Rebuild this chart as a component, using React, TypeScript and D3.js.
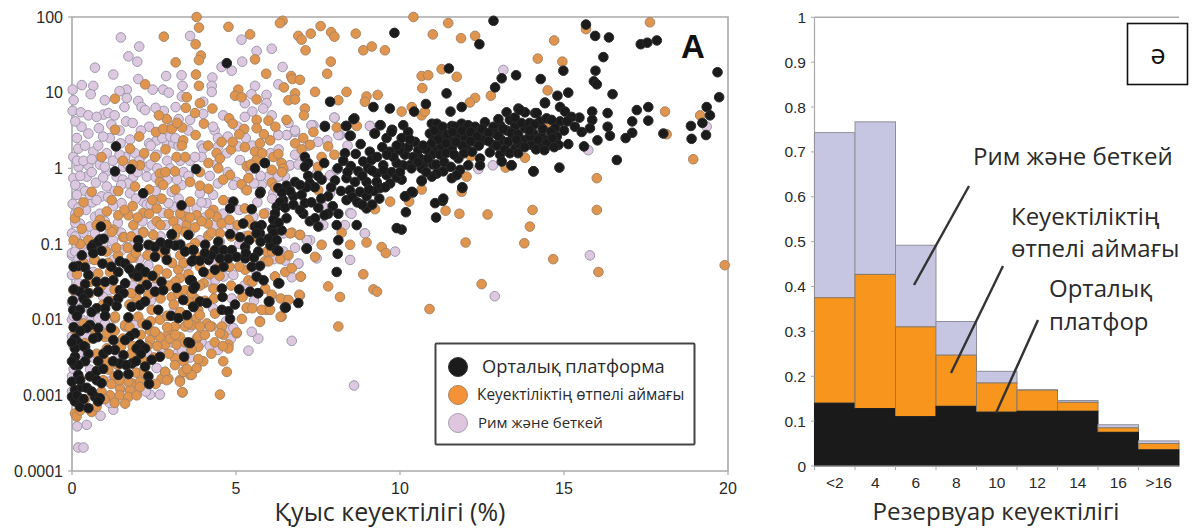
import React from "react";
import * as d3 from "d3";

// Scatter values are [porosity %, log10 permeability].
const rimSlopeSparse: [number, number][] = [
[1.49,1.73],[2.05,1.61],[1.72,1.48],[1.99,1.41],[.7,1.33],[1.26,1.24],[2.02,1.18],[.65,1.09],[.57,.98],[.02,1.04],[1.67,1.04],[1.67,.93],[2.46,1.04],[2.78,1.04],[2.87,1.22],[3.34,1.23],[3.37,1.09],[3.6,1.75],[4.28,1.2],[4.26,1.09],[4.26,1.01],[5.17,1.7],[5.63,1.55],[6.09,1.58],[5.19,1.41],[4.56,1.34],[4.87,1.29],[6.42,1.34],[6.29,1.11],[5.58,1.09],[5.47,.98],[5.93,.97],[5.93,.86],[5.27,.86],[5.83,.79],[6.09,.7],[5.27,.68],[4.61,.7],[2.02,.89],[1.6,.81],[2.12,.81],[2.23,.77],[.02,.76],[.27,.74],[.96,.71],[1.11,.73],[.29,.55],[.5,.46],[.82,.53],[.19,.26],[.04,.15],[.5,.04],[1.06,.2],[1.48,.33],[1.77,.38],[2.35,.55],[2.8,.76],[3.16,.81],[3.6,.64],[4,.88],[2.58,.37],[2.89,.33],[3.09,.33],[3.95,.3],
[.04,-.13],[.29,-.26],[.45,-.11],[.73,-.19],[1.06,-.04],[1.06,-.24],[.9,-.37],[.02,-.47],[.43,-.55],[.7,-.64],[.24,-.73],[.55,-.77],[.85,-.6],[.12,-.93],[.29,-1.06],[0,-1.15],[.7,-.86],[1.51,-.46],[1.77,-.33],[2.17,-.44],[2.17,.18],[2.58,.18],[2.28,.02],[1.62,.15],[1.92,.2],[1.56,.02],[1.36,-.11],[1.87,-.11],[2.28,-.11],[3.04,-.31],[3.09,-.51],[3.34,-.22],[3.9,-.33],[4.1,-.46],[4.61,-.6],[4,.26],[3.95,.15],[4.72,.2],[5.07,.29],[5.12,.11],[5.43,-.02],[5.02,-.18],[4.46,.29],[6.29,.44],[6.56,.44],[6.8,.48],[7.36,.57],[8,.67],[8.17,.44],[9.09,.56],[6.65,.04],[6.49,-.11],[5.99,-.11],[7.87,-.09],[8.48,-.59],[8.93,-.86],[9.85,-1.1],[7.26,-.95],[6.29,-1.09],[8.48,-1.21],[6.9,-1.26],[7.87,-.33],[4.92,-.22],[5.53,-.64],[5.93,-.59],[6.44,-.86],[3.29,-.73],[3.8,-.53],[2.28,-.48],[2.94,-.46],[2.78,-.59],[1.97,-.86],[1.67,-1.04],[2.38,-1.06],[3.09,-.99],[3.9,-.95],[4.92,-.86],[4.51,-.97],[5.27,-.9],
[7.3,.57],[6.8,.5],[6.54,.44],[6.29,.44],[8,.67],[8.12,.44],[7.78,.37],[9.08,.56],[6.8,.18],[6.49,0],[6.64,.04],[6.29,-.11],[7.46,-.07],[8.07,-.02],[5.78,-.22],[6.14,-.33],[7.86,-.53],[8.52,-.6],[7.66,-.51],[8.32,-.75],[7.66,-.75],[8.93,-.86],
[7.16,-.95],[6.9,-1.26],[6.5,-1.22],[7.46,-1.19],[4.92,-1.41],[4.36,-1.48],[4.62,-1.43],[6.7,-1.44],[4.87,-1.72],[5.48,-2.16],[5.68,-2.25],[6.7,-2.28],[4.77,-2.14],[5.38,-2.41],[8.6,-2.87],[2.68,-2.99],[2.38,-2.99],[1.26,-3.19],[.87,-3.27],[.45,-3.39],[.16,-3.41],[.19,-3.69],[.35,-3.69],[4.92,-2.11],
[0,-1.12],[.14,-.95],[.35,-1.04],[0,-.86],[1.11,-1.08],[1.51,-1.08],[2.33,-1.28],[1.11,-1.61],[.2,-1.52],[0,-1.41],[.14,-1.74],[0,-1.78],[.65,-1.37],[1.26,-1.21],[.6,-1.96],[.3,-2],[.8,-1.98],[0,-2],[1.01,-2.05],[1.92,-2.07],[0,-2.22],[.4,-2.22],[1.97,-2.36],[0,-2.75],[.55,-2.66],[1.11,-2.82],[1.62,-2.89],[2.58,-2.64],[2.1,-2.7],
[.4,-.3],[.15,-.35],[.62,-.45],[1.25,-.5],[1.4,-.72],[1.15,-.85],[.95,-1],[.55,-1.2],[.3,-1.3],[1.7,-1.3],[2.05,-1.2],[2.7,-.9],[3.3,-1],[3.5,-1.3],[2.55,-1.55],[1.85,-1.55],[.95,-1.7],[.3,-1.85],[2.4,-1.75],[3.1,-1.9],[3.6,-2.1],[2.6,-2.2],[3.2,-2.45],[1.4,-2.45],[.65,-2.5],[.2,-2.45],[2,-2.9],[1.55,-.15],[2.55,-.3],[3.6,.1],[3.25,.3],[4.35,.5],[3.05,.55],[2.35,.33],[4.2,-.1],[4.35,-.75],[4.8,-.45],[5.3,.4],[5.5,.3],[3.4,-.05],[1.15,.4],[.65,.22],[.85,.05],[.2,.02],[.1,-.6],
[15.79,-1.15],[15.74,.24],[13.15,1.3],[12.83,.04],[12.39,-.01],[19.35,.55],[12.89,-1.69]
];
const rimSlopeDense: [number, number][] = [
[.15,.1],[.35,.1],[.6,.12],[.8,.3],[1,.02],[1.25,.1],[1.45,.18],[1.7,.05],[2.05,.1],[2.4,.05],[2.6,0],[2.9,.1],[3,0],[3.3,.1],[3.55,-.1],[3.75,.15],[3.2,-.15],[2.9,-.15],[2.55,-.12],[2,-.05],[1.7,-.2],[1.3,-.3],[.95,-.12],[.6,-.05],[.25,-.1],[.1,-.22],[.55,-.35],[.75,-.42],[1.1,-.38],[1.5,-.22],[1.95,-.4],[2.4,-.48],[2.6,-.42],[3.25,-.4],[3.45,-.55],[3.95,-.45],[4.3,-.35],[4.45,-.2],[4.75,-.05],[4.4,.05],[5.3,-.28],[5.55,-.2],[5.75,-.1],[6.1,-.4],[6.9,.05],[7.2,.3],[7.5,.35],[8.4,.3],[.1,-.9],[.2,-.52],[.35,-.85],[.5,-1.1],[.1,-.72],[1,-.7],[1.25,-.95],[1.5,-.85],[1.9,-1],[2.15,-.7],[2.45,-.75],[2.85,-.75],[3.6,-.85],[4.05,-.65],[4.8,-.75],[5.1,-.55],[5.65,-.45],[5.1,-1],[5.6,-1.35],[4.3,-1.25],[4.1,-1.5],[4.75,-1.3],[4.3,-1.85],[4.7,-2.02],[5.25,-1.55],[5.55,-1.75],[6.15,-1.2],[6.45,-1.1],[6.8,-1.05],[.1,-1.1],[.05,-1.95],[.2,-1.2],[.15,-2.1],[.25,-2.55],[.05,-2.35],[.05,-2.65],[0,-2.95],[1.15,-3.1],[2.25,-2.95],[1.7,-2.72],[2.3,-2.45],[2.75,-2.4],[3.05,-2.3],[3.35,-2.4],[3.6,-2.5],[3.95,-2.3],[4.2,-2.35],[4.45,-2.4],[4.85,-2.25],[.4,.3],[.15,.4],[.1,.62],[.5,.7],[.75,.68],[.95,.42],[1.2,.58],[1.45,.5],[1.65,.62],[1.85,.6],[2.1,.5],[2.4,.3],[2.75,.4],[3,.42],[3.25,.65],[3.55,.5],[4,.72],[4.3,.55],[4.45,.4],[4.75,.42],[5.05,.55],[5.5,.75],[6.05,.2],[6.3,.25],[6.6,.6],[.05,.9],[.3,1.1],[1,.9],[1.3,.7],[1.45,1.02],[2.55,.8],[2.95,1],[3.35,.95],[3.15,.4]
];

const transitionSparse: [number, number][] = [
[10.41,2],[11.47,1.92],[11,1.77],[11.86,1.72],[12.29,1.75],[14.7,1.69],[17.62,1.93],[15.67,1.84],[14.2,1.45],[14.95,1.41],[11.27,1.31],[10.66,1.22],[10.86,1.23],[11.73,1.21],[10.68,1.06],[14.5,1.03],[12.77,.96],[12.29,.93],[12.13,.87],[10.05,.75],[10.36,.81],[10.66,.7],[10.76,.75],[18.08,.75],[19.15,.7],[18.13,.45],[14.44,.55],[18.94,.12],[13.81,.14],[12.16,.16],[13.22,.01],[12.03,-.11],[16,-.13],[11.88,-.31],[10.66,-.28],[10.28,-.44],[11.39,-.56],[11.81,-.6],[12.67,-.61],[14.04,-.55],[16,-.55],[13.96,-.77],[12,-.98],[13.79,-.99],[14.67,-1.2],[19.9,-1.28],[16.05,-1.37],[12.49,-1.53],[10.9,-1.86],
[8.12,-2.09],[8.88,-1.4],[7.81,-1.56],[8.17,-1.7],[9.19,-1.6],[9.3,-1.63],[4.51,-2.99],[3.37,-2.96],[4.72,-2.69],[6.98,-1.43],[6.95,-1.68],[6.39,-1.96],[5.73,-2.02],[5.02,-2.18],[5.33,-1.85],[5.93,-1.87],[6.54,-1.74],[6.19,-1.43],
[3.8,2],[3.87,1.86],[4.77,1.87],[2.8,1.74],[3.77,1.64],[5.43,1.77],[6.42,1.95],[6.34,1.92],[7.58,1.88],[6.9,1.75],[7,1.7],[7.28,1.78],[7.9,1.8],[8,1.74],[8.65,1.78],[7.12,1.56],[8.88,1.56],[9.14,1.61],[9.54,1.56],[3.93,1.49],[3.87,1.43],[3.16,1.4],[5.58,1.44],[7.89,1.41],[5.92,1.25],[7.78,1.25],[6.68,1.22],[6.72,1.18],[6.95,1.17],[3.78,1.24],[3.87,1.09],[2.23,1.11],[6.46,1.07],[5.07,1.04],[6.8,.99],[7.41,1.01],[8.37,1.01],[1.31,.92],[3.5,.94],[4.97,.96],[5.17,.94],[5.63,.91],[6.6,.9],[6.8,.91],[8.12,.9],[8.98,.95],[8.93,.88],[9.32,.97],[3.9,.86],[3.47,.8],[4.28,.79],[7.1,.79],[7.07,.7],[3.75,.73],[2.89,.65],[4.79,.66],[4.9,.59],[4.02,.59],[5.63,.64],[5.99,.63],[6.54,.64],[8.07,.54],[8.68,.56],[1.31,.51],[2.56,.48],[2.78,.52],[3.04,.52],[3.36,.54],[5.25,.52],[5.63,.53],[7.36,.48],[3.77,.44],[2.05,.42],[3.39,.37],[4.56,.35],[6.04,.37],[6.8,.33],[5.27,.28],[5.73,.33],[7.26,.31],[7.81,.29],[7,.25],[1.77,.26],[5.58,.22],[4.41,.2],[.9,.15],[2.53,.15],[3.19,.15],[3.45,.15],[6.14,.15],[6.29,.19],[5.63,.11],[4.51,.13],[7.61,.15],[8,.18],[2.07,.04],[4.16,.07],[5.33,.03],[6.39,.07],[6.44,0],[6.09,-.02],[4.46,0],[2.68,-.07],[3.14,-.04],[4.82,-.09],[4.61,-.15],[2.68,-.18],[2.78,-.22],[5.38,-.13],[3.6,-.18],[3.9,-.23],[1.92,-.24],[2.35,-.28],[4.16,-.27],[5.17,-.21],[5.33,-.29],[6.09,-.19],[.6,-.31],[1.41,-.3],[2.73,-.4],[1.21,-.42],[3.6,-.44],[4.61,-.42],[7.51,-.29],[9.7,-.44],[9.24,-.54],[4.31,-.55],[1.06,-.57],[2.58,-.53],[5.27,-.53],[.09,-.66],[1.41,-.62],[1.72,-.62],[2.17,-.59],[3.45,-.64],[3.8,-.62],[4.41,-.64],[1.87,-.75],[3.09,-.7],[2.58,-.7],[3.5,-.75],[4.14,-.73],[4.56,-.73],[5.38,-.68],[1.26,-.81],[2.17,-.84],[2.48,-.88],[3.45,-.84],[4.16,-.89],[6.7,-.85],[6.95,-.88],[8.22,-.85],[.5,-.96],[1.56,-.91],[8.48,-1.01],[8.98,-.98],[7.61,-1.01],[9.44,-1.04],[9.57,-1.12],[7.41,-1.17],[.7,-1.21],[1.87,-1.18],[5.88,-1.23]
];
const transitionDense: [number, number][] = [
[.5,-.95],[1.21,-.84],[1.6,-.91],[2.18,-.85],[3.14,-.88],[.68,-1.21],[1.16,-1.37],[.8,-1.39],[1.82,-1.18],[2.63,-1.34],[2.89,-1.39],[3.24,-1.34],[3.29,-1.45],[.04,-1.61],[1.97,-1.72],[2.33,-1.67],[3.04,-1.7],[3.25,-1.66],[3.45,-1.61],[2.43,-1.87],[1.31,-1.98],[2.02,-1.96],[2.68,-2],[3.45,-2.09],[1.62,-2.09],[.09,-2.14],[2.38,-2.14],[3.14,-2.09],[1.01,-2.23],[2.68,-2.23],[2.38,-2.27],[2.94,-2.18],[3.29,-2.23],[.4,-2.31],[1.46,-2.33],[2.84,-2.33],
[1.11,-2.66],[2.84,-2.69],[3.14,-2.51],[3.45,-2.69],[3.6,-2.73],[2.73,-2.78],[2.94,-2.78],[3.29,-2.8],[1.82,-2.84],[2.07,-2.82],[1.46,-2.91],[1.77,-2.93],[2.07,-2.89],[1.16,-3],[1.46,-3],[1.72,-3.02],[1.97,-3],[3.36,-2.96],[1.62,-3.11],[.09,-3.24],[.14,-3.28],[.6,-3.22],[1.06,-2.38],[1.72,-2.82],
[4.16,-.89],[4.51,-.86],[3.75,-.99],[5.38,-.89],[6.65,-.86],[6.95,-.88],[4.11,-1.12],[3.8,-1.17],[5.94,-1.1],[5.99,-1.23],[5.28,-1.34],[5.38,-1.48],[6.19,-1.43],[6.5,-1.37],[6.7,-1.32],[6.97,-1.43],[4.01,-1.52],[4.31,-1.59],[5.89,-1.59],[6.09,-1.67],[6.36,-1.72],[6.6,-1.74],[6.93,-1.67],[3.75,-1.72],[4.33,-1.72],[5.33,-1.84],[5.78,-1.87],[6.04,-1.87],[6.36,-1.96],[5.18,-1.99],[5.73,-2.03],[3.85,-1.87],[4.36,-1.92],[3.8,-1.98],[4.11,-2.05],[3.65,-2.07],[3.9,-2.09],[4.26,-2.09],[4.57,-2.09],[5.02,-2.17],[3.8,-2.25],[4.62,-2.2],[4.77,-2.33],[3.85,-2.36],
[.09,-2.11],[.09,-1.6],[1.06,-2.18],[1.31,-1.96],[1.62,-2.07],[2.53,-2.16],[2.99,-2.25],[3.5,-1.98],[3.9,-1.94],[3.85,-2.22],[4.21,-2.09],[4.51,-2.18],[4.77,-2.38],[4,-2.55],[3.8,-2.64],[3.65,-2.73],[3.39,-2.69],[3.14,-2.6],[2.84,-2.69],[2.89,-2.8],[3.29,-2.82],[4.61,-2.55],[3.19,-2.33],
[.75,-1.03],[1.05,-1.1],[1.4,-1.15],[1.9,-1.42],[2.25,-1.45],[2.7,-1.72],[3.55,-1.75],[.9,-1.55],[1.2,-1.75],[.55,-1.65],[1.75,-1.8],[2.15,-2.05],[2.9,-1.95],[1.55,-2.25],[.75,-2.45],[1.4,-2.6],[1.85,-2.35],[2.5,-2.5],[2.2,-2.55],[.9,-2.95],[1.3,-2.75],[3.9,-1.3],[4.5,-1.3],[4.85,-1.55],[4.05,-1.75],[.25,-2.78],[3.3,-1.15],[2.85,-1.15],[2.4,-1.02],[3.6,-1.05],
[.2,-.58],[.35,-.45],[.85,-.68],[1.05,-.75],[1.6,-.55],[1.85,-.5],[2,-.65],[2.35,-.6],[2.45,-.42],[2.95,-.6],[3.15,-.28],[3.3,-.6],[3.6,-.65],[3.95,-.7],[4.2,-.6],[4.8,-.68],[5.05,-.75],[.25,-1],[.35,-1.25],[.15,-1.4],[.55,-1.5],[1.1,-1.25],[1.35,-1.05],[1.7,-1.05],[1.95,-1.12],[2.3,-1.15],[2.65,-1.1],[3.05,-1.25],[3.4,-1.25],[3.55,-1.4],[3.15,-1.5],[2.95,-1.55],[3.1,-1.8],[3.65,-1.65],[3.9,-1.55],[4.2,-1.4],[4.5,-1.42],[4.8,-1.3],[5.1,-1.3],[5.5,-1.5],[5.2,-1.7],[5.5,-1.85],[.35,-2.05],[.7,-2.2],[.6,-2.1],[1.3,-2.15],[1.75,-2.1],[2.1,-2.2],[2.4,-2.02],[2.9,-2.1],[3.15,-2.2],[3.45,-2.3],[3.65,-2.4],[3.4,-2.55],[2.95,-2.45],[2.6,-2.35],[2.3,-2.35],[1.8,-2.45],[1.2,-2.85],[1.05,-2.55],[1.95,-2.7],[2.2,-2.7],[2.55,-2.85],[.4,-3.05],[.75,-3.15],[1,-3.05],[1.3,-3.1],[1.45,-2.8],[.25,-3.2],[.95,-2.8],[1.5,-2.35],[.95,-1.8],[1.3,-1.6],[1.8,-1.65],[2.55,-1.45],[2.15,-1.55],[3.3,-1.9],[3.55,-2.05],[4.05,-2.2],[4.35,-2.3],[4.6,-2.35],[4.25,-2.45],[3.85,-2.52],[3.5,-2.65],[.05,-.95],[.3,-.8],[.75,-.75],[1.8,-.9],[2.7,-.75],[3.2,-.8],[3.75,-.78],[4.25,-.85],[4.85,-.9],[5.5,-.75],[5.55,-.9],[6.1,-1.1],[6.35,-1.2],[6.6,-1.15],[5.85,-.6],[6.2,-.25],[6.4,-.05],[7.05,.4],[7.5,.02],[1.55,.1],[1.85,.05],[2.2,.2],[2.85,.25],[2.85,-.05],[3.35,.3],[3.9,-.05],[4.15,.3],[4.85,.25],[2.65,.7],[3.2,.6],[5.45,.05],[4.9,.35],[5.1,.45],[5.85,.45],[5.8,.2],[6.2,.55]
];

const centralBand: [number, number][] = [
[12.85,1.95],[15.67,1.9],[15.95,1.75],[16.37,1.73],[17.34,1.64],[17.54,1.66],[17.83,1.69],[12.42,1.64],[16.2,1.47],[19.68,1.27],[19.73,.94],[11.49,1.32],[13.1,1.19],[13.54,1.23],[14.29,1.18],[14.98,1.29],[15.96,1.29],[15.91,1.15],[16,1.11],[12.9,1.07],[11.42,.99],[14.8,.96],[15.13,1],[16.48,.98],[10.79,.85],[10.43,.75],[11.54,.75],[11.88,.81],[14.42,.87],[17.22,.77],[17.57,.81],[19.35,.81],[19.45,.7],[15.86,.75],[16.33,.73],[15.86,.64],[17.08,.62],[17.57,.63],[19.22,.6],[18.87,.56],[16.33,.55],[17.08,.47],[16.4,.43],[16.88,.4],[18.03,.46],[18.89,.39],[19.33,.44],[16.02,.37],[16.61,.11],[14.86,.01],[14.07,-.04],[13.4,.04],[15.13,.32],[15.61,.29],[15.47,.67],[10.05,-.81],[11.1,-.65],[10.18,-.58],[11.3,-.43],[11.07,-.46],[11.9,-.26],[10.66,-.17],[10.39,-.32],[10.18,-.37],
[10.1,.57],[10.25,.48],[10.97,.59],[11.12,.59],[11.58,.56],[11.88,.59],[12.59,.61],[13.25,.74],[13.35,.64],[13.61,.79],[13.81,.74],[13.51,.55],[13.05,.57],[10.91,.46],[11.17,.48],[11.68,.55],[12.08,.57],[12.29,.55],[12.44,.5],[12.85,.55],[13.25,.5],[13.81,.53],[14.12,.73],[14.42,.86],[14.27,.62],[14.47,.66],[14.07,.46],[14.32,.42],[14.47,.37],[11.37,.42],[11.02,.37],[11.52,.37],[11.78,.44],[11.98,.4],[12.24,.44],[12.59,.44],[12.9,.46],[13.45,.42],[13.76,.37],[13.1,.37],[13.3,.35],[14.01,.31],[14.27,.31],[14.52,.31],[11.02,.26],[11.27,.29],[11.58,.26],[12.03,.31],[12.29,.35],[12.54,.37],[12.85,.31],[13.51,.26],[13.61,.33],[10.46,.35],[10.56,.24],[10.1,.22],[10.15,.18],[10.61,.13],[10.97,.18],[11.22,.18],[11.78,.13],[12.08,.04],[12.44,.13],[12.44,.04],[12.74,.21],[13.05,.18],[13.1,.09],[13.4,.04],[14.07,-.04],[10.3,.04],[10.71,.04],[11,.05],[10.1,.04],[10.66,0],[11.32,-.04],[11.12,-.07],[10.97,-.11],[11.58,-.13],[11.83,-.02],[11.73,-.09],[10.05,-.15],[10.66,-.16],[11.9,-.25],[10.36,-.31],[10.15,-.37],[11.32,-.4],[14.88,.81],[15.03,.75],[15.23,.68],[14.88,.62],[15.33,.55],[15.54,.48],[15.79,.53],[14.73,.53],[14.78,.42],[14.47,.33],[14.83,.31],[14.62,.64],[14.17,.73],[13.66,.77],
[11.05,.5],[11.3,.55],[11.45,.45],[11.6,.48],[11.9,.5],[12.15,.48],[12.35,.42],[12.5,.52],[12.7,.47],[13,.43],[13.15,.52],[13.4,.47],[13.6,.45],[13.7,.6],[13.95,.6],[14.1,.58],[14.35,.52],[14.6,.48],[14.65,.4],[14.2,.38],[13.95,.42],[13.55,.38],[12.95,.3],[12.7,.36],[12.4,.3],[12.15,.36],[11.9,.3],[11.7,.35],[11.4,.33],[11.15,.38],[10.95,.32],[10.8,.25],[11.4,.2],[11.65,.18],[11.95,.2],[12.2,.22],[13.2,.25],[13.35,.2],[13.6,.2],[13.8,.28],[14.15,.25],[14.4,.24],[14.7,.28],[13,.65],[13.5,.67],[13.95,.5],[15,.5],[15.1,.62],[10.7,.3],[10.85,.13],[10.4,.15],[10.55,.08],[10.25,.28],[10.35,0],[10.8,-.05],[11.1,.05],[11.35,.08],[11.55,.02],[10,.3],[10.05,.4],[10.3,.38]
];
const centralMiddle: [number, number][] = [
[8.61,.66],[7.71,.56],[8.35,.56],[9.41,.57],[8.5,.43],[9.22,.46],[9.76,.51],[9.59,.4],[8.8,.32],[9.46,.28],[9.69,.22],[9.08,.22],[8.32,.2],[8.27,.1],[8.65,.19],[9.98,.24],[7.1,.15],[5.88,.07],[5.58,0],[7.2,.07],[7.69,.07],[8.88,.09],[9.13,.11],[9.49,.04],[9.9,.07],[8.73,-.04],[9.03,0],[9.29,-.07],[9.59,-.09],[7.2,-.1],[7.61,-.15],[7.25,-.2],[6.8,-.18],[6.54,-.23],[6.29,-.26],[5.75,-.31],[8.02,-.16],[8.37,-.13],[8.63,-.18],[8.98,-.18],[9.29,-.18],[9.39,-.26],[8.47,-.29],[8.78,-.31],[8.98,-.37],[9.37,-.4],[6.44,-.42],[6.75,-.37],[7,-.35],[7.81,-.37],[6.24,-.51],[6.19,-.6],[6.14,-.68],[7.1,-.46],[7.51,-.52],[8.12,-.6],[6.54,-.66],[7.05,-.6],[7.25,-.7],[7.41,-.66],[7.81,-.6],[5.58,-.77],[5.78,-.75],[5.22,-.73],[5.73,-.86],[6.39,-.82],[7.51,-.77],[8.07,-.75],[8.68,-.75],[9.9,-.79],[8.98,-.53],[8.37,-.42],
[4.72,1.39],[9.83,1.79],[1.34,.29],[1.31,-.04],[1.79,-.01],[3.78,-.01],[5.88,.07],[2.17,-.33],[3.34,-.49],[4.92,-.44],[4.82,-.53],[5.48,-.54],[5.73,-.33],[7.1,.02],[7.71,.55],[7.87,.88],[9.19,.81],[9.69,.79],[8.37,.56],[8.58,.65],[8.47,.43],[9.39,.57],[9.24,.46],[9.74,.48],
[9.9,.3],[9.8,.15],[9.6,.18],[9.3,.15],[9.15,-.03],[9.5,-.02],[9.75,-.05],[9.9,-.12],[10,-.05],[9.7,-.2],[9.55,-.25],[9.2,-.3],[9.05,-.28],[8.85,-.1],[8.5,.03],[8.4,-.05],[8.1,0],[8.55,-.38],[8.7,-.45],[8.85,-.48],[9.15,-.48],[7.9,-.25],[8.2,-.3],[7.5,-.1],[7.4,-.25],[7.15,-.25],[6.95,-.22],[6.65,-.3],[6.4,-.32],[6.35,-.45],[6.5,-.52],[6.75,-.48],[6.95,-.55],[7.3,-.45],[7.6,-.4],[7.7,-.62],[7.95,-.5],[6.3,-.72],[6.1,-.8],[6.2,-.95],[6.05,-1.02]
];
const centralLower: [number, number][] = [
[.88,-.77],[.85,-.94],[.65,-1.01],[2.02,-.95],[3.04,-.88],[5.68,-.77],[6.14,-.86],[6.24,-1.08],[7.15,-1.06],[8.12,-.95],[8.1,-1.13],[8.07,-1.37],[6.9,-1.78],[6.49,-1.84],[6.29,-1.52],[5.68,-1.65],[6.02,-1.76],[4.97,-1.8],
[.8,-.97],[.6,-1.04],[.96,-.93],[.9,-1.09],[2.02,-1.04],[2.33,-1.01],[2.53,-1.04],[2.84,-1.08],[3.04,-.87],[3.3,-1.01],[3.55,-.88],[3.45,-1.1],[3.7,-1.08],[2.53,-1.17],[2.89,-1.21],[.19,-1.29],[.4,-1.31],[.93,-1.26],[1.46,-1.23],[1.62,-1.26],[3.65,-1.23],[2.07,-1.32],[1.87,-1.39],[2.23,-1.37],[2,-1.43],[1.41,-1.37],[.5,-1.41],[.75,-1.5],[1.01,-1.5],[1.26,-1.48],[1.62,-1.52],[.4,-1.53],[2.28,-1.54],[2.07,-1.6],[2.73,-1.5],[2.53,-1.63],[2.78,-1.61],[3.19,-1.58],[3.6,-1.48],[3.7,-1.59],[.24,-1.63],[.5,-1.65],[.8,-1.63],[1.46,-1.61],[1.57,-1.65],[.35,-1.72],[1.41,-1.72],[.45,-1.78],[1.11,-1.76],[1.36,-1.82],[.75,-1.85],[1.01,-1.85],[1.82,-1.83],[2.07,-1.81],[2.23,-1.76],[3.39,-1.74],[3.7,-1.83],[2.63,-1.87],[.04,-1.87],[.24,-1.87],[1.01,-1.95],[1.72,-1.97],[3.02,-1.95],[3.24,-1.98],[3.5,-1.94],[.55,-2.07],[.45,-2.11],[.8,-2.11],[2.28,-2.07],[1.19,-2.11],[1.92,-2.18],[1.77,-2.22],[1.62,-2.27],[.09,-2.25],[.2,-2.31],[.78,-2.23],[1.26,-2.27],[2.07,-2.33],[3.55,-2.3],
[.09,-2.38],[.09,-2.49],[.09,-2.6],[.4,-2.36],[.5,-2.45],[.4,-2.55],[.8,-2.55],[.96,-2.45],[1.31,-2.4],[1.57,-2.47],[1.46,-2.58],[1.82,-2.58],[1.97,-2.38],[2.23,-2.38],[2.23,-2.62],[2.43,-2.53],[2.68,-2.49],[3.42,-2.49],[1.41,-2.73],[1.72,-2.72],[2.33,-2.75],[2.35,-2.85],[0,-2.82],[.19,-2.73],[.55,-2.75],[.75,-2.8],[.9,-2.84],[.09,-2.93],[.3,-2.89],[0,-3.02],[.09,-3.08],[.7,-3.02],[.85,-3.04],[.8,-3.08],[.24,-3.15],[.5,-3.17],
[4.82,-.87],[5.12,-.91],[5.63,-.86],[5.99,-.93],[6.24,-.95],[4.06,-1.01],[4.46,-.97],[3.7,-1.08],[4.36,-1.08],[4.62,-1.08],[4.87,-1.08],[5.28,-1.04],[5.68,-1.1],[6.29,-1.09],[7.16,-1.06],[3.7,-1.21],[4.16,-1.21],[4.51,-1.19],[4.77,-1.19],[5.02,-1.17],[5.28,-1.19],[5.48,-1.3],[5.73,-1.29],[4.62,-1.3],[4.36,-1.34],[4.01,-1.37],[5.63,-1.43],[5.84,-1.48],[6.32,-1.52],[3.65,-1.48],[3.75,-1.56],[4.57,-1.59],[5.1,-1.6],[5.43,-1.63],[5.66,-1.65],[4.59,-1.7],[3.9,-1.76],[4.11,-1.78],[3.7,-1.83],[6,-1.76],[6.52,-1.84],[4.57,-1.87],[4.77,-1.89],[4.82,-1.99],[3.6,-2.31],
[5.4,-.95],[5.75,-.97],[5.3,-1.12],[5.55,-1.18],[4.25,-1.15],[4.05,-1.12],[3.9,-1.22],[3.15,-1.02],[2.7,-.98],[2.95,-1],[1.2,-1.3],[1.75,-1.33],[2.45,-1.42],[.65,-1.12],[.3,-1.15],[.05,-1.3],[.05,-1.6],[.02,-1.75],[.15,-1.95],[.05,-2.1],[.25,-2.15],[.6,-1.9],[.35,-2.35],[.65,-2.25],[.2,-2.6],[.25,-2.8],[.45,-2.9],[.6,-2.95],[.15,-3],[.35,-3.05],[0,-2.55],[0,-2.3],[1.1,-2.4],[1.25,-2.55],[1.65,-2.6],[1.95,-2.55],[2.1,-2.45],[.75,-2.68],[.95,-2.65]
];

const rimSlope = [...rimSlopeSparse, ...rimSlopeDense];
const transitionZone = [...transitionSparse, ...transitionDense];
const centralPlatform = [...centralBand, ...centralMiddle, ...centralLower];

const barCategories = ["<2", "4", "6", "8", "10", "12", "14", "16", ">16"];
const barCentral = [0.14, 0.128, 0.11, 0.133, 0.12, 0.122, 0.122, 0.075, 0.036];
const barTransitionTop = [0.375, 0.427, 0.31, 0.247, 0.185, 0.169, 0.142, 0.085, 0.05];
const barRimTop = [0.743, 0.767, 0.492, 0.322, 0.211, 0.17, 0.146, 0.092, 0.056];

const logTicks = [100, 10, 1, 0.1, 0.01, 0.001, 0.0001];
const logTickLabels = ["100", "10", "1", "0.1", "0.01", "0.001", "0.0001"];
const xTicks = [0, 5, 10, 15, 20];
const fracTicks = [0, 0.1, 0.2, 0.3, 0.4, 0.5, 0.6, 0.7, 0.8, 0.9, 1];

const AX = "#a9a9a9";
const TXT = "#2a2a2a";
const SANS = "'Liberation Sans', Arial, sans-serif";
const TITLE = "'Open Sans', 'Noto Sans', sans-serif";

const xS = d3.scaleLinear().domain([0, 20]).range([72, 728]);
const yS = d3.scaleLog().domain([0.0001, 100]).range([471, 17]);
const xB = d3.scaleBand<string>().domain(barCategories).range([814.5, 1179]).paddingInner(0).paddingOuter(0);
const yB = d3.scaleLinear().domain([0, 1]).range([466, 17.3]);

const Dots = ({ data, fill, stroke }: { data: [number, number][]; fill: string; stroke: string }) => (
  <g>
    {data.map(([x, l], i) => (
      <circle key={i} cx={xS(x)} cy={yS(Math.pow(10, l))} r={4.8} fill={fill} stroke={stroke} strokeWidth={1} />
    ))}
  </g>
);

export default function App() {
  const bw = xB.bandwidth();
  return (
    <svg width={1197} height={530} style={{ position: "absolute", left: 0, top: 0, background: "#fff" }}>
      <path d={`M${xS(0)},${yS(100)}H${xS(20)}V${yS(0.0001)}H${xS(0)}Z`} fill="none" stroke={AX} strokeWidth={1.6} />
      {logTicks.map((t, i) => (
        <g key={t}>
          <line x1={xS(0) - 4} x2={xS(0)} y1={yS(t)} y2={yS(t)} stroke={AX} strokeWidth={1.2} />
          <text x={63} y={yS(t) + 5.5} textAnchor="end" fontFamily={SANS} fontSize={16} fill={TXT}>{logTickLabels[i]}</text>
        </g>
      ))}
      {xTicks.map((t) => (
        <g key={t}>
          <line x1={xS(t)} x2={xS(t)} y1={yS(0.0001)} y2={yS(0.0001) + 4} stroke={AX} strokeWidth={1.2} />
          <text x={xS(t)} y={494} textAnchor="middle" fontFamily={SANS} fontSize={16} fill={TXT}>{t}</text>
        </g>
      ))}
      <Dots data={rimSlope} fill="#DCC9E0" stroke="#9d97ad" />
      <Dots data={transitionZone} fill="#E0954F" stroke="#a98464" />
      <Dots data={centralPlatform} fill="#1b1b1b" stroke="#2b2b2b" />
      <text x={693} y={58} textAnchor="middle" fontFamily={SANS} fontWeight="bold" fontSize={33} fill="#111">A</text>
      <text x={390} y={521} textAnchor="middle" fontFamily={TITLE} fontSize={25} fill={TXT}>Қуыс кеуектілігі (%)</text>

      <rect x={435.5} y={343.5} width={259} height={101} fill="#fff" stroke="#444" strokeWidth={2} rx={1} />
      <circle cx={458} cy={367} r={9.5} fill="#1b1b1b" stroke="#333" />
      <circle cx={458} cy={395} r={9.5} fill="#F39237" stroke="#a98464" />
      <circle cx={458} cy={423} r={9.5} fill="#E0C5DF" stroke="#a5a0b3" />
      <text x={482} y={373} fontFamily={TITLE} fontSize={18.3} fill={TXT}>Орталық платформа</text>
      <text x={477} y={400} fontFamily={TITLE} fontSize={15.4} fill={TXT}>Кеуектіліктің өтпелі аймағы</text>
      <text x={478} y={428} fontFamily={TITLE} fontSize={15} fill={TXT}>Рим және беткей</text>

      <line x1={814.5} x2={1179} y1={yB(1)} y2={yB(1)} stroke={AX} strokeWidth={1.4} />
      <line x1={814.5} x2={814.5} y1={yB(1)} y2={yB(0)} stroke={AX} strokeWidth={1.2} />
      {barCategories.map((c, i) => {
        const x = xB(c) as number;
        return (
          <g key={c}>
            <rect x={x} y={yB(barRimTop[i])} width={bw} height={yB(barTransitionTop[i]) - yB(barRimTop[i])} fill="#C6C6E2" stroke="#8f8f9a" strokeWidth={1} />
            <rect x={x} y={yB(barTransitionTop[i])} width={bw} height={yB(barCentral[i]) - yB(barTransitionTop[i])} fill="#F7951D" stroke="#8a7a66" strokeWidth={1} />
            <rect x={x} y={yB(barCentral[i])} width={bw} height={yB(0) - yB(barCentral[i])} fill="#1a1a1a" stroke="#1a1a1a" strokeWidth={1} />
            <text x={x + bw / 2} y={488} textAnchor="middle" fontFamily={SANS} fontSize={15.5} fill={TXT}>{c}</text>
            <line x1={x} x2={x} y1={yB(0)} y2={yB(0) + 4} stroke={AX} />
          </g>
        );
      })}
      <line x1={814.5} x2={1179} y1={yB(0)} y2={yB(0)} stroke={AX} strokeWidth={1} />
      {fracTicks.map((t) => (
        <g key={t}>
          <line x1={811} x2={814.5} y1={yB(t)} y2={yB(t)} stroke={AX} />
          <text x={806} y={yB(t) + 5.5} textAnchor="end" fontFamily={SANS} fontSize={15.5} fill={TXT}>{t}</text>
        </g>
      ))}
      <text x={996} y={520} textAnchor="middle" fontFamily={TITLE} fontSize={24.2} fill={TXT}>Резервуар кеуектілігі</text>

      <g stroke="#333" strokeWidth={2.4}>
        <line x1={969} y1={186} x2={914} y2={285} />
        <line x1={1003} y1={266} x2={951} y2={373} />
        <line x1={1038} y1={320} x2={996} y2={413} />
      </g>
      <g fontFamily={TITLE} fontSize={24} fill={TXT}>
        <text x={973} y={165}>Рим және беткей</text>
        <text x={1011} y={225}>Кеуектіліктің</text>
        <text x={1011} y={257}>өтпелі аймағы</text>
        <text x={1049} y={297}>Орталық</text>
        <text x={1049} y={330}>платфор</text>
      </g>
      <rect x={1127.5} y={23.5} width={60} height={61} fill="#fff" stroke="#111" strokeWidth={1.6} />
      <text x={1158} y={64} textAnchor="middle" fontFamily={TITLE} fontSize={27} fill="#111">ә</text>
    </svg>
  );
}
